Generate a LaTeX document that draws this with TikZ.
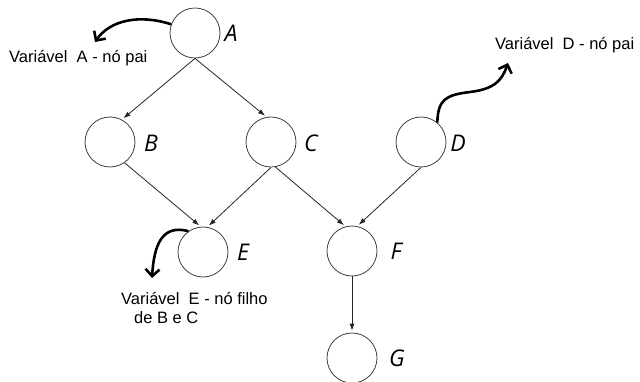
\documentclass[tikz,border=0pt]{standalone}
\usepackage{fontspec}
\setmainfont{Liberation Sans}
\newfontfamily\lblfont{Open Sans}
\usetikzlibrary{arrows.meta}
\begin{document}
\begin{tikzpicture}[x=1pt,y=-1pt,
 var/.style={circle, draw=black!75, line width=0.8pt, minimum size=50pt, inner sep=0pt},
 lbl/.style={font=\lblfont\itshape\fontsize{23}{23}\selectfont, inner sep=0pt},
 edge/.style={draw=black!85, line width=0.8pt, shorten >=2pt, -{Latex[length=7pt,width=5pt]}},
 curvy/.style={line width=2.6pt, -{Straight Barb[length=7pt,width=14pt]}},
 note/.style={font=\fontsize{16.5}{19}\selectfont, inner sep=0pt, align=left}]
\useasboundingbox (0,0) rectangle (640,382);
\fill[white] (0,0) rectangle (640,382);
\node[var] (A) at (195,33) {};
\node[var] (B) at (110,142) {};
\node[var] (C) at (271,142) {};
\node[var] (D) at (421,142) {};
\node[var] (E) at (203,252) {};
\node[var] (F) at (352,251) {};
\node[var] (G) at (352,358) {};
\node[lbl] (lA) at (231,33) {A};
\node[lbl] (lB) at (151,143) {B};
\node[lbl] (lC) at (311,143) {C};
\node[lbl] (lD) at (458,143) {D};
\node[lbl] (lE) at (243,252) {E};
\node[lbl] (lF) at (396,251) {F};
\node[lbl] (lG) at (397,358) {G};
\draw[edge] (A.south) -- (B.62);
\draw[edge] (A.south) -- (C.100);
\draw[edge] (B.-55) -- (E.95);
\draw[edge] (C.south) -- (E.80);
\draw[edge] (C.-80) -- (F.105);
\draw[edge] (D.south) -- (F.78);
\draw[edge] (F.south) -- (G.north);
\node[note, anchor=west] (nA) at (9,58) {Variável\ \ A - nó pai};
\node[note, anchor=west] (nD) at (495,45) {Variável\ \ D - nó pai};
\node[note, anchor=north west] (nE) at (121,292) {Variável\ \ E - nó filho\\\hspace{13pt}de B e C};
\draw[curvy] (A.160) .. controls (140,14) and (110,20) .. (95,42);
\draw[curvy] (D.50) .. controls (438,100) and (445,95) .. (470,92) .. controls (495,89) and (502,80) .. (508,63);
\draw[curvy] (E.125) .. controls (162,224) and (154,245) .. (152,278);
\end{tikzpicture}
\end{document}
